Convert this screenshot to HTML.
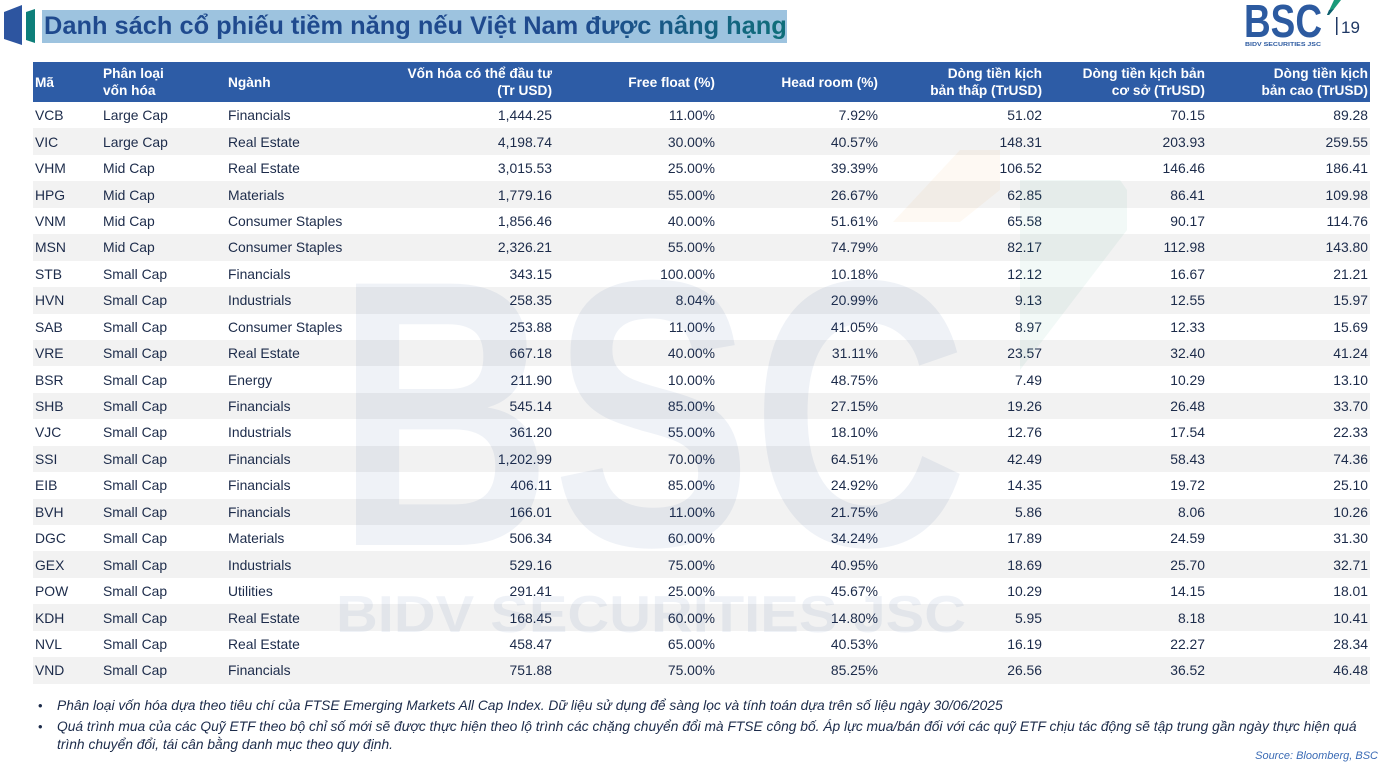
<!DOCTYPE html>
<html><head><meta charset="utf-8">
<style>
*{margin:0;padding:0;box-sizing:border-box}
body{width:1378px;height:767px;background:#fff;position:relative;overflow:hidden;font-family:"Liberation Sans","Noto Sans CJK SC",sans-serif;color:#1c2b4a}
.title{position:absolute;left:42px;top:10px;width:745px;height:33px;background:#9dc3df;}
.title span{position:absolute;left:2px;top:1px;font-size:25.4px;font-weight:bold;white-space:nowrap;line-height:31px;
background:linear-gradient(90deg,#1f4a8e 0%,#1f4a8e 72%,#0f6f7a 100%);-webkit-background-clip:text;background-clip:text;color:transparent}
table{position:absolute;left:33px;top:62px;width:1337px;border-collapse:collapse;table-layout:fixed;font-size:13.9px}
th{background:#2d5ca6;color:#fff;font-weight:bold;height:40px;line-height:17px;font-size:13.7px;vertical-align:middle;padding:0}
td{height:26.45px;padding:0;vertical-align:middle;white-space:nowrap}
tr:nth-child(odd) td{background:#f2f2f2}
.l{text-align:left}.r{text-align:right}
th.l,td.l{padding-left:2px}
th.r,td.r{padding-right:2px}
.c2{padding-left:3px!important}
.foot{position:absolute;left:38px;font-style:italic;font-size:13.8px;line-height:17px;color:#1c2b4a;white-space:nowrap}
.foot b{font-weight:normal;font-style:normal;position:absolute;left:0;top:0;font-size:13px}
.foot span{position:absolute;left:19px;white-space:nowrap}
</style></head><body>

<svg style="position:absolute;left:0;top:0" width="40" height="50">
<polygon points="4,12 22,5 22,45 4,39" fill="#2d55a0"/>
<polygon points="26,12 35,9 35,43 26,40" fill="#0e7f7a"/>
</svg>
<div class="title"><span>Danh sách cổ phiếu tiềm năng nếu Việt Nam được nâng hạng</span></div>

<svg style="position:absolute;left:1230px;top:0" width="148" height="55">
<text x="14" y="37" font-family="Liberation Sans" font-weight="bold" font-size="46" fill="#2c5aa0" textLength="78" lengthAdjust="spacingAndGlyphs">BSC</text>
<text x="15" y="46" font-family="Liberation Sans" font-weight="bold" font-size="5.5" fill="#2c5aa0" textLength="76" lengthAdjust="spacingAndGlyphs">BIDV SECURITIES JSC</text>
<polygon points="104,0 111,0 104,9 99,15 97,15" fill="#1a9a7a"/>
<polygon points="99,10 104,9 99,15 97,15" fill="#0e5e6e"/>
<rect x="106" y="17" width="1.5" height="18" fill="#1f3864"/>
<text x="111" y="33" font-family="Liberation Sans" font-size="17" fill="#1f3864">19</text>
</svg>

<table>
<colgroup><col style="width:67px"><col style="width:125px"><col style="width:165px"><col style="width:164px"><col style="width:163px"><col style="width:163px"><col style="width:164px"><col style="width:163px"><col style="width:163px"></colgroup>
<tr><th class="l">Mã</th><th class="l c2">Phân loại<br>vốn hóa</th><th class="l c2">Ngành</th><th class="r">Vốn hóa có thể đầu tư<br>(Tr USD)</th><th class="r">Free float (%)</th><th class="r">Head room (%)</th><th class="r">Dòng tiền kịch<br>bản thấp (TrUSD)</th><th class="r">Dòng tiền kịch bản<br>cơ sở (TrUSD)</th><th class="r">Dòng tiền kịch<br>bản cao (TrUSD)</th></tr>
<tr><td class="l">VCB</td><td class="l c2">Large Cap</td><td class="l c2">Financials</td><td class="r">1,444.25</td><td class="r">11.00%</td><td class="r">7.92%</td><td class="r">51.02</td><td class="r">70.15</td><td class="r">89.28</td></tr>
<tr><td class="l">VIC</td><td class="l c2">Large Cap</td><td class="l c2">Real Estate</td><td class="r">4,198.74</td><td class="r">30.00%</td><td class="r">40.57%</td><td class="r">148.31</td><td class="r">203.93</td><td class="r">259.55</td></tr>
<tr><td class="l">VHM</td><td class="l c2">Mid Cap</td><td class="l c2">Real Estate</td><td class="r">3,015.53</td><td class="r">25.00%</td><td class="r">39.39%</td><td class="r">106.52</td><td class="r">146.46</td><td class="r">186.41</td></tr>
<tr><td class="l">HPG</td><td class="l c2">Mid Cap</td><td class="l c2">Materials</td><td class="r">1,779.16</td><td class="r">55.00%</td><td class="r">26.67%</td><td class="r">62.85</td><td class="r">86.41</td><td class="r">109.98</td></tr>
<tr><td class="l">VNM</td><td class="l c2">Mid Cap</td><td class="l c2">Consumer Staples</td><td class="r">1,856.46</td><td class="r">40.00%</td><td class="r">51.61%</td><td class="r">65.58</td><td class="r">90.17</td><td class="r">114.76</td></tr>
<tr><td class="l">MSN</td><td class="l c2">Mid Cap</td><td class="l c2">Consumer Staples</td><td class="r">2,326.21</td><td class="r">55.00%</td><td class="r">74.79%</td><td class="r">82.17</td><td class="r">112.98</td><td class="r">143.80</td></tr>
<tr><td class="l">STB</td><td class="l c2">Small Cap</td><td class="l c2">Financials</td><td class="r">343.15</td><td class="r">100.00%</td><td class="r">10.18%</td><td class="r">12.12</td><td class="r">16.67</td><td class="r">21.21</td></tr>
<tr><td class="l">HVN</td><td class="l c2">Small Cap</td><td class="l c2">Industrials</td><td class="r">258.35</td><td class="r">8.04%</td><td class="r">20.99%</td><td class="r">9.13</td><td class="r">12.55</td><td class="r">15.97</td></tr>
<tr><td class="l">SAB</td><td class="l c2">Small Cap</td><td class="l c2">Consumer Staples</td><td class="r">253.88</td><td class="r">11.00%</td><td class="r">41.05%</td><td class="r">8.97</td><td class="r">12.33</td><td class="r">15.69</td></tr>
<tr><td class="l">VRE</td><td class="l c2">Small Cap</td><td class="l c2">Real Estate</td><td class="r">667.18</td><td class="r">40.00%</td><td class="r">31.11%</td><td class="r">23.57</td><td class="r">32.40</td><td class="r">41.24</td></tr>
<tr><td class="l">BSR</td><td class="l c2">Small Cap</td><td class="l c2">Energy</td><td class="r">211.90</td><td class="r">10.00%</td><td class="r">48.75%</td><td class="r">7.49</td><td class="r">10.29</td><td class="r">13.10</td></tr>
<tr><td class="l">SHB</td><td class="l c2">Small Cap</td><td class="l c2">Financials</td><td class="r">545.14</td><td class="r">85.00%</td><td class="r">27.15%</td><td class="r">19.26</td><td class="r">26.48</td><td class="r">33.70</td></tr>
<tr><td class="l">VJC</td><td class="l c2">Small Cap</td><td class="l c2">Industrials</td><td class="r">361.20</td><td class="r">55.00%</td><td class="r">18.10%</td><td class="r">12.76</td><td class="r">17.54</td><td class="r">22.33</td></tr>
<tr><td class="l">SSI</td><td class="l c2">Small Cap</td><td class="l c2">Financials</td><td class="r">1,202.99</td><td class="r">70.00%</td><td class="r">64.51%</td><td class="r">42.49</td><td class="r">58.43</td><td class="r">74.36</td></tr>
<tr><td class="l">EIB</td><td class="l c2">Small Cap</td><td class="l c2">Financials</td><td class="r">406.11</td><td class="r">85.00%</td><td class="r">24.92%</td><td class="r">14.35</td><td class="r">19.72</td><td class="r">25.10</td></tr>
<tr><td class="l">BVH</td><td class="l c2">Small Cap</td><td class="l c2">Financials</td><td class="r">166.01</td><td class="r">11.00%</td><td class="r">21.75%</td><td class="r">5.86</td><td class="r">8.06</td><td class="r">10.26</td></tr>
<tr><td class="l">DGC</td><td class="l c2">Small Cap</td><td class="l c2">Materials</td><td class="r">506.34</td><td class="r">60.00%</td><td class="r">34.24%</td><td class="r">17.89</td><td class="r">24.59</td><td class="r">31.30</td></tr>
<tr><td class="l">GEX</td><td class="l c2">Small Cap</td><td class="l c2">Industrials</td><td class="r">529.16</td><td class="r">75.00%</td><td class="r">40.95%</td><td class="r">18.69</td><td class="r">25.70</td><td class="r">32.71</td></tr>
<tr><td class="l">POW</td><td class="l c2">Small Cap</td><td class="l c2">Utilities</td><td class="r">291.41</td><td class="r">25.00%</td><td class="r">45.67%</td><td class="r">10.29</td><td class="r">14.15</td><td class="r">18.01</td></tr>
<tr><td class="l">KDH</td><td class="l c2">Small Cap</td><td class="l c2">Real Estate</td><td class="r">168.45</td><td class="r">60.00%</td><td class="r">14.80%</td><td class="r">5.95</td><td class="r">8.18</td><td class="r">10.41</td></tr>
<tr><td class="l">NVL</td><td class="l c2">Small Cap</td><td class="l c2">Real Estate</td><td class="r">458.47</td><td class="r">65.00%</td><td class="r">40.53%</td><td class="r">16.19</td><td class="r">22.27</td><td class="r">28.34</td></tr>
<tr><td class="l">VND</td><td class="l c2">Small Cap</td><td class="l c2">Financials</td><td class="r">751.88</td><td class="r">75.00%</td><td class="r">85.25%</td><td class="r">26.56</td><td class="r">36.52</td><td class="r">46.48</td></tr>
</table>

<svg style="position:absolute;left:0;top:0;pointer-events:none" width="1378" height="767">
<g fill="#1e468c" fill-opacity="0.07">
<text x="336" y="545" font-family="Liberation Sans" font-weight="bold" font-size="380" textLength="632" lengthAdjust="spacingAndGlyphs">BSC</text>
<text x="336" y="632" font-family="Liberation Sans" font-weight="bold" font-size="52" textLength="630" lengthAdjust="spacingAndGlyphs">BIDV SECURITIES JSC</text>
</g>
<polygon points="893,222 960,150 1000,150 1000,190 960,222" fill="#f0a030" fill-opacity="0.06"/>
<polygon points="1020,180 1120,180 1127,190 1127,230 1020,370 1020,230" fill="#2aa070" fill-opacity="0.06"/>
</svg>

<div class="foot" style="top:697px"><b>•</b><span>Phân loại vốn hóa dựa theo tiêu chí của FTSE Emerging Markets All Cap Index. Dữ liệu sử dụng để sàng lọc và tính toán dựa trên số liệu ngày 30/06/2025</span></div>
<div class="foot" style="top:718px"><b>•</b><span>Quá trình mua của các Quỹ ETF theo bộ chỉ số mới sẽ được thực hiện theo lộ trình các chặng chuyển đổi mà FTSE công bố. Áp lực mua/bán đối với các quỹ ETF chịu tác động sẽ tập trung gần ngày thực hiện quá</span></div>
<div class="foot" style="top:736px"><span>trình chuyển đổi, tái cân bằng danh mục theo quy định.</span></div>
<div style="position:absolute;right:0;top:750px;font-style:italic;font-size:11px;color:#3a6bb5;white-space:nowrap">Source: Bloomberg, BSC</div>

</body></html>
